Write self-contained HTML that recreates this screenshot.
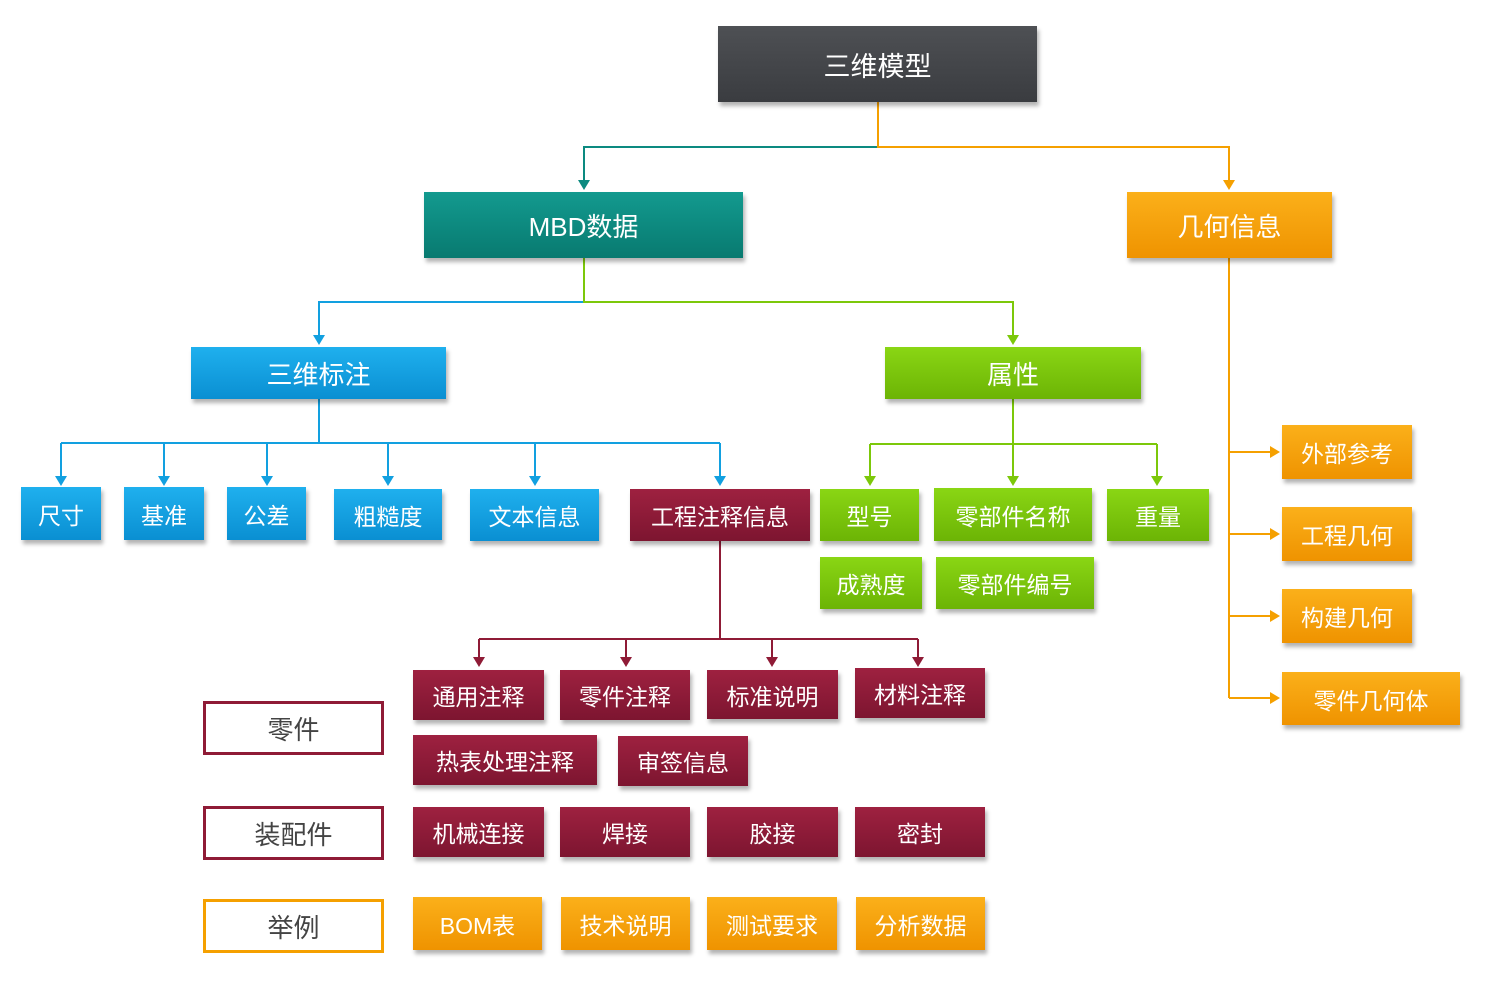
<!DOCTYPE html>
<html><head><meta charset="utf-8"><style>
body{margin:0;width:1486px;height:982px;background:#fff;position:relative;overflow:hidden;font-family:"Liberation Sans","Noto Sans CJK SC",sans-serif}
.b{position:absolute;display:flex;align-items:center;justify-content:center;color:#fff;font-size:23px;box-shadow:2px 4px 4px rgba(0,0,0,.3);box-sizing:border-box}
.k{background:linear-gradient(#4e5054,#3a3c40)}
.t{background:linear-gradient(#139a8f,#087a70)}
.o{background:linear-gradient(#fbb01a,#ef9300)}
.u{background:linear-gradient(#1fb0ee,#0a8fd2)}
.g{background:linear-gradient(#8ad614,#6cb405)}
.r{background:linear-gradient(#9e2140,#7d1530)}
.l{position:absolute;display:flex;align-items:center;justify-content:center;color:#444;font-size:26px;background:#fff;box-sizing:border-box;border:3px solid #8f1b36}
svg{position:absolute;left:0;top:0}
</style></head><body>
<svg width="1486" height="982">
<g fill="none" stroke-width="2">
<path d="M878,147H584V184" stroke="#0c8a80"/><path d="M878,102V147H1229V184" stroke="#f5a000"/>
<path d="M584,302H319V339" stroke="#12a0e0"/><path d="M584,258V302H1013V339" stroke="#7cc80a"/>
<path d="M319,399V443M61,443H720M61,443V480M164,443V480M267,443V480M388,443V480M535,443V480M720,443V480" stroke="#12a0e0"/>
<path d="M1013,399V444M870,444H1157M870,444V480M1013,444V480M1157,444V480" stroke="#7cc80a"/>
<path d="M1229,258V698M1229,452H1273M1229,534H1273M1229,616H1273M1229,698H1273" stroke="#f5a000"/>
<path d="M720,541V639M479,639H918M479,639V661M626,639V661M772,639V661M918,639V661" stroke="#8f1b36"/>
</g>
<g>
<path d="M578,180h12l-6,10z" fill="#0c8a80"/><path d="M1223,180h12l-6,10z" fill="#f5a000"/>
<path d="M313,335h12l-6,10z" fill="#12a0e0"/><path d="M1007,335h12l-6,10z" fill="#7cc80a"/>
<g fill="#12a0e0"><path d="M55,476h12l-6,10z"/><path d="M158,476h12l-6,10z"/><path d="M261,476h12l-6,10z"/><path d="M382,476h12l-6,10z"/><path d="M529,476h12l-6,10z"/><path d="M714,476h12l-6,10z"/></g>
<g fill="#7cc80a"><path d="M864,476h12l-6,10z"/><path d="M1007,476h12l-6,10z"/><path d="M1151,476h12l-6,10z"/></g>
<g fill="#f5a000"><path d="M1270,446v12l10,-6z"/><path d="M1270,528v12l10,-6z"/><path d="M1270,610v12l10,-6z"/><path d="M1270,692v12l10,-6z"/></g>
<g fill="#8f1b36"><path d="M473,657h12l-6,10z"/><path d="M620,657h12l-6,10z"/><path d="M766,657h12l-6,10z"/><path d="M912,657h12l-6,10z"/></g>
</g>
</svg>
<div class="b k" style="left:718px;top:26px;width:319px;height:76px;font-size:27px">三维模型</div>
<div class="b t" style="left:424px;top:192px;width:319px;height:66px;font-size:26px">MBD数据</div>
<div class="b o" style="left:1127px;top:192px;width:205px;height:66px;font-size:26px">几何信息</div>
<div class="b u" style="left:191px;top:347px;width:255px;height:52px;font-size:26px">三维标注</div>
<div class="b g" style="left:885px;top:347px;width:256px;height:52px;font-size:26px">属性</div>
<div class="b u" style="left:21px;top:487px;width:80px;height:53px">尺寸</div>
<div class="b u" style="left:124px;top:487px;width:80px;height:53px">基准</div>
<div class="b u" style="left:227px;top:487px;width:79px;height:53px">公差</div>
<div class="b u" style="left:334px;top:489px;width:108px;height:51px">粗糙度</div>
<div class="b u" style="left:470px;top:489px;width:129px;height:52px">文本信息</div>
<div class="b r" style="left:630px;top:489px;width:180px;height:52px">工程注释信息</div>
<div class="b g" style="left:820px;top:489px;width:99px;height:52px">型号</div>
<div class="b g" style="left:934px;top:488px;width:158px;height:53px">零部件名称</div>
<div class="b g" style="left:1107px;top:489px;width:102px;height:52px">重量</div>
<div class="b g" style="left:820px;top:557px;width:102px;height:52px">成熟度</div>
<div class="b g" style="left:936px;top:557px;width:158px;height:52px">零部件编号</div>
<div class="b o" style="left:1282px;top:425px;width:130px;height:54px">外部参考</div>
<div class="b o" style="left:1282px;top:507px;width:130px;height:54px">工程几何</div>
<div class="b o" style="left:1282px;top:589px;width:130px;height:54px">构建几何</div>
<div class="b o" style="left:1282px;top:672px;width:178px;height:53px">零件几何体</div>
<div class="b r" style="left:413px;top:670px;width:131px;height:50px">通用注释</div>
<div class="b r" style="left:560px;top:670px;width:130px;height:50px">零件注释</div>
<div class="b r" style="left:707px;top:670px;width:131px;height:49px">标准说明</div>
<div class="b r" style="left:855px;top:668px;width:130px;height:50px">材料注释</div>
<div class="b r" style="left:413px;top:735px;width:184px;height:50px">热表处理注释</div>
<div class="b r" style="left:618px;top:736px;width:130px;height:50px">审签信息</div>
<div class="b r" style="left:413px;top:807px;width:131px;height:50px">机械连接</div>
<div class="b r" style="left:560px;top:807px;width:130px;height:50px">焊接</div>
<div class="b r" style="left:707px;top:807px;width:131px;height:50px">胶接</div>
<div class="b r" style="left:855px;top:807px;width:130px;height:50px">密封</div>
<div class="b o" style="left:413px;top:897px;width:129px;height:53px">BOM表</div>
<div class="b o" style="left:561px;top:897px;width:129px;height:53px">技术说明</div>
<div class="b o" style="left:707px;top:897px;width:130px;height:53px">测试要求</div>
<div class="b o" style="left:856px;top:897px;width:129px;height:53px">分析数据</div>
<div class="l" style="left:203px;top:701px;width:181px;height:54px">零件</div>
<div class="l" style="left:203px;top:806px;width:181px;height:54px">装配件</div>
<div class="l" style="left:203px;top:899px;width:181px;height:54px;border-color:#f5a000">举例</div>
</body></html>
